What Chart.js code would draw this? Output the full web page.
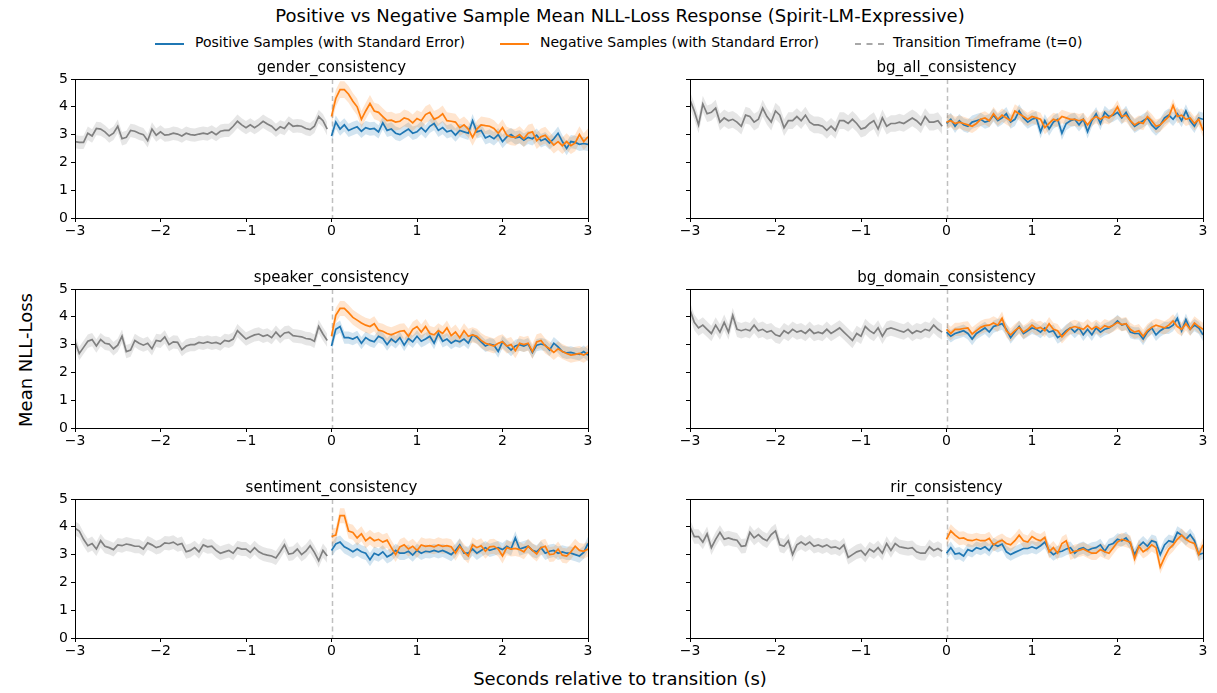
<!DOCTYPE html>
<html>
<head>
<meta charset="utf-8">
<script src="https://cdn.jsdelivr.net/npm/chart.js@4.4.1/dist/chart.umd.min.js"></script>
<style>
  body { margin: 0; background: #fff; font-family: "DejaVu Sans", sans-serif; color: #000; }
  #page { position: relative; width: 1217px; height: 693px; overflow: hidden; }
  .panel { position: absolute; }
  #suptitle { position: absolute; top: 5px; left: 0; width: 1240px; text-align: center; font-size: 18px; }
  #legend { position: absolute; top: 34px; left: 155px; font-size: 14px; white-space: nowrap; }
  .item { position: absolute; top: 0; }
  .swatch { position: absolute; top: 9px; width: 29px; height: 0; }
  .item span.txt { position: absolute; left: 40px; top: 0; }
  #ylabel { position: absolute; left: 25px; top: 360px; font-size: 18px; transform: translate(-50%, -50%) rotate(-90deg); white-space: nowrap; }
  #xlabel { position: absolute; top: 668px; left: 0; width: 1240px; text-align: center; font-size: 18px; }
</style>
</head>
<body>
<div id="page">
  <div id="suptitle">Positive vs Negative Sample Mean NLL-Loss Response (Spirit-LM-Expressive)</div>
  <div id="legend">
    <div class="item" style="left:0"><div class="swatch" style="border-top:2px solid #1f77b4"></div><span class="txt">Positive Samples (with Standard Error)</span></div>
    <div class="item" style="left:345px"><div class="swatch" style="border-top:2px solid #ff7f0e"></div><span class="txt">Negative Samples (with Standard Error)</span></div>
    <div class="item" style="left:700px"><div class="swatch" style="border-top:2px dashed #a8a8a8"></div><span class="txt" style="left:38px">Transition Timeframe (t=0)</span></div>
  </div>
  <div id="ylabel">Mean NLL-Loss</div>
  <div id="xlabel">Seconds relative to transition (s)</div>
</div>
<script>
// sampling grid: 0.05 s, pre segment starts at -3 s, post at 0 s
const sampleStep = 0.05;
const preStart = -3;
const transitionTime = 0;
const xTicks = [-3, -2, -1, 0, 1, 2, 3];
const yTicks = [0, 1, 2, 3, 4, 5];

const panelTitles = ["gender_consistency", "bg_all_consistency", "speaker_consistency",
  "bg_domain_consistency", "sentiment_consistency", "rir_consistency"];

// standard error per panel (pre, positive, negative)
const preErr = [0.24, 0.3, 0.24, 0.28, 0.25, 0.26];
const posErr = [0.24, 0.24, 0.22, 0.22, 0.24, 0.22];
const negErr = [0.3, 0.24, 0.27, 0.24, 0.27, 0.24];

const genderPre = [2.75, 2.72, 2.72, 3.05, 2.95, 3.22, 3.20, 3.10, 2.95, 3.05,
  3.30, 2.85, 2.90, 3.15, 3.12, 3.05, 3.00, 2.78, 3.20, 2.98,
  3.10, 2.98, 3.00, 3.05, 3.02, 2.95, 3.05, 3.00, 2.98, 3.02,
  3.05, 3.02, 3.10, 3.00, 3.12, 3.15, 3.15, 3.30, 3.48, 3.35,
  3.25, 3.35, 3.25, 3.35, 3.48, 3.38, 3.30, 3.15, 3.28, 3.22,
  3.42, 3.30, 3.32, 3.30, 3.22, 3.18, 3.30, 3.65, 3.50, 3.20];
const genderPos = [2.95, 3.45, 3.20, 3.35, 3.15, 3.22, 3.28, 3.12, 3.25, 3.20,
  3.22, 3.10, 3.42, 3.15, 3.20, 3.05, 3.00, 3.10, 3.20, 3.05,
  3.10, 3.25, 3.10, 3.30, 3.40, 3.15, 3.25, 3.10, 3.15, 2.98,
  3.15, 3.10, 3.05, 3.50, 3.10, 3.15, 2.88, 2.95, 2.85, 3.00,
  2.75, 2.92, 3.00, 2.88, 2.92, 2.80, 2.90, 2.85, 2.98, 2.78,
  2.85, 2.70, 2.85, 3.05, 2.75, 2.50, 2.75, 2.72, 2.65, 2.68, 2.65];
const genderNeg = [3.65, 4.30, 4.62, 4.62, 4.45, 4.20, 4.00, 3.55, 3.85, 4.12,
  3.85, 3.80, 3.65, 3.50, 3.52, 3.45, 3.48, 3.60, 3.55, 3.42,
  3.58, 3.50, 3.72, 3.80, 3.55, 3.62, 3.75, 3.50, 3.48, 3.45,
  3.25, 3.35, 3.20, 2.90, 3.20, 3.35, 3.32, 3.30, 3.22, 3.05,
  3.25, 2.98, 2.92, 2.90, 3.00, 2.85, 3.05, 3.10, 2.78, 2.92,
  2.98, 2.80, 2.62, 2.75, 2.60, 2.75, 2.60, 2.70, 3.00, 2.75, 2.92];

const bgAllPre = [4.25, 3.85, 3.35, 4.10, 3.75, 3.80, 3.95, 3.45, 3.60, 3.50,
  3.55, 3.45, 3.30, 3.70, 3.65, 3.45, 3.55, 3.95, 3.65, 3.45,
  3.85, 3.70, 3.25, 3.50, 3.50, 3.65, 3.50, 3.70, 3.45, 3.35,
  3.35, 3.30, 3.15, 3.30, 3.15, 3.50, 3.50, 3.40, 3.55, 3.40,
  3.20, 3.25, 3.40, 3.50, 3.20, 3.60, 3.30, 3.40, 3.40, 3.45,
  3.40, 3.50, 3.60, 3.50, 3.35, 3.65, 3.45, 3.45, 3.50, 3.30];
const bgAllPos = [3.40, 3.55, 3.30, 3.50, 3.35, 3.30, 3.45, 3.50, 3.55, 3.45,
  3.50, 3.70, 3.50, 3.60, 3.75, 3.45, 3.55, 3.85, 3.60, 3.45,
  3.55, 3.60, 3.10, 3.50, 3.20, 3.45, 3.55, 3.05, 3.40, 3.50,
  3.55, 3.35, 3.55, 3.10, 3.50, 3.75, 3.40, 3.80, 3.65, 3.70,
  3.80, 3.60, 3.80, 3.50, 3.30, 3.40, 3.50, 3.60, 3.35, 3.20,
  3.35, 3.60, 3.70, 3.55, 3.75, 3.50, 3.85, 3.50, 3.30, 3.60, 3.55];
const bgAllNeg = [3.45, 3.50, 3.40, 3.45, 3.40, 3.35, 3.30, 3.40, 3.55, 3.60,
  3.50, 3.75, 3.55, 3.70, 3.60, 3.50, 3.85, 3.75, 3.65, 3.55,
  3.65, 3.60, 3.55, 3.25, 3.40, 3.55, 3.50, 3.65, 3.60, 3.55,
  3.55, 3.50, 3.55, 3.35, 3.55, 3.65, 3.55, 3.65, 3.60, 3.75,
  4.00, 3.65, 3.70, 3.50, 3.35, 3.45, 3.40, 3.65, 3.50, 3.30,
  3.35, 3.50, 3.65, 4.05, 3.65, 3.70, 3.55, 3.60, 3.40, 3.55, 3.15];

const speakerPre = [3.10, 2.68, 2.90, 3.12, 3.18, 2.95, 3.18, 3.05, 3.02, 2.85,
  2.98, 3.30, 2.75, 2.80, 3.15, 3.05, 2.98, 3.05, 2.85, 3.15,
  3.12, 3.28, 3.00, 3.10, 3.08, 2.82, 2.95, 3.00, 3.00, 3.08,
  3.05, 3.10, 3.05, 3.08, 3.02, 3.15, 3.12, 3.20, 3.50, 3.35,
  3.20, 3.28, 3.35, 3.38, 3.30, 3.35, 3.25, 3.45, 3.28, 3.42,
  3.45, 3.32, 3.30, 3.28, 3.22, 3.20, 3.12, 3.65, 3.38, 3.15];
const speakerPos = [2.95, 3.55, 3.65, 3.25, 3.25, 3.20, 3.28, 3.05, 3.25, 3.15,
  3.10, 3.30, 3.22, 3.00, 3.20, 3.08, 3.25, 2.98, 3.22, 3.10,
  3.30, 3.12, 3.20, 3.30, 3.05, 3.40, 3.12, 3.20, 3.05, 3.15,
  3.10, 3.20, 3.05, 3.35, 3.25, 3.10, 2.95, 3.02, 2.98, 2.75,
  3.10, 2.95, 2.80, 2.95, 3.00, 2.95, 3.02, 2.72, 2.98, 3.02,
  2.98, 2.80, 3.05, 2.92, 2.75, 2.70, 2.72, 2.68, 2.65, 2.75, 2.62];
const speakerNeg = [3.30, 4.05, 4.30, 4.30, 4.15, 3.98, 3.88, 3.78, 3.70, 3.65,
  3.75, 3.52, 3.48, 3.40, 3.35, 3.42, 3.48, 3.50, 3.30, 3.55,
  3.65, 3.45, 3.65, 3.40, 3.35, 3.50, 3.40, 3.60, 3.32, 3.45,
  3.25, 3.50, 3.30, 3.35, 3.30, 3.15, 3.05, 3.00, 2.95, 3.05,
  3.10, 2.95, 3.00, 2.78, 3.05, 3.00, 3.05, 2.75, 3.10, 3.15,
  2.95, 2.85, 2.72, 2.85, 2.75, 2.68, 2.62, 2.65, 2.68, 2.62, 2.72];

const bgDomainPre = [4.25, 3.80, 3.60, 3.70, 3.55, 3.40, 3.70, 3.45, 3.80, 3.45,
  4.05, 3.55, 3.50, 3.55, 3.50, 3.70, 3.50, 3.55, 3.45, 3.50,
  3.35, 3.30, 3.50, 3.40, 3.55, 3.45, 3.50, 3.40, 3.55, 3.40,
  3.45, 3.40, 3.55, 3.40, 3.50, 3.60, 3.45, 3.30, 3.15, 3.40,
  3.30, 3.65, 3.50, 3.40, 3.60, 3.30, 3.55, 3.60, 3.55, 3.50,
  3.45, 3.55, 3.40, 3.50, 3.45, 3.55, 3.50, 3.70, 3.55, 3.45];
const bgDomainPos = [3.45, 3.30, 3.40, 3.45, 3.50, 3.40, 3.20, 3.40, 3.50, 3.60,
  3.45, 3.65, 3.70, 3.75, 3.55, 3.25, 3.45, 3.65, 3.40, 3.50,
  3.60, 3.55, 3.45, 3.60, 3.45, 3.50, 3.25, 3.35, 3.50, 3.60,
  3.45, 3.60, 3.35, 3.55, 3.35, 3.60, 3.45, 3.55, 3.60, 3.70,
  3.85, 3.70, 3.75, 3.45, 3.40, 3.40, 3.20, 3.45, 3.60, 3.35,
  3.50, 3.60, 3.60, 3.70, 3.95, 3.50, 3.90, 3.55, 3.70, 3.60, 3.35];
const bgDomainNeg = [3.55, 3.40, 3.55, 3.55, 3.58, 3.60, 3.38, 3.50, 3.62, 3.68,
  3.70, 3.78, 3.70, 3.95, 3.50, 3.35, 3.50, 3.62, 3.45, 3.55,
  3.70, 3.58, 3.62, 3.50, 3.75, 3.55, 3.50, 3.28, 3.45, 3.60,
  3.65, 3.60, 3.55, 3.68, 3.55, 3.65, 3.55, 3.68, 3.62, 3.70,
  3.80, 3.72, 3.75, 3.55, 3.45, 3.50, 3.30, 3.50, 3.62, 3.70,
  3.65, 3.60, 3.70, 3.85, 3.65, 3.55, 3.75, 3.55, 3.78, 3.65, 3.55];

const sentimentPre = [3.95, 3.85, 3.55, 3.32, 3.40, 3.20, 3.50, 3.30, 3.25, 3.18,
  3.35, 3.32, 3.38, 3.35, 3.30, 3.30, 3.20, 3.42, 3.35, 3.25,
  3.30, 3.42, 3.40, 3.45, 3.35, 3.40, 3.10, 3.15, 3.25, 3.10,
  3.35, 3.28, 3.30, 3.15, 3.05, 3.10, 3.15, 3.05, 3.25, 3.20,
  3.20, 3.08, 3.25, 3.10, 3.02, 2.98, 2.95, 2.88, 3.10, 3.35,
  3.02, 3.05, 3.20, 3.00, 3.12, 3.32, 3.08, 2.78, 3.15, 2.95];
const sentimentPos = [3.15, 3.38, 3.45, 3.28, 3.20, 3.10, 3.20, 3.10, 3.05, 2.82,
  3.05, 2.98, 3.10, 2.92, 3.00, 3.15, 3.05, 3.05, 3.12, 2.98,
  3.15, 3.05, 3.12, 3.10, 3.15, 3.10, 3.15, 3.08, 3.00, 3.15,
  3.35, 3.05, 3.05, 3.20, 3.05, 3.15, 3.25, 3.15, 3.20, 3.25,
  3.18, 3.30, 3.20, 3.60, 3.20, 3.25, 3.30, 3.15, 3.10, 3.25,
  3.05, 3.12, 3.15, 3.05, 3.10, 3.05, 3.05, 3.00, 2.95, 3.08, 3.40];
const sentimentNeg = [3.65, 3.70, 4.40, 4.40, 3.85, 3.80, 3.60, 3.75, 3.50, 3.62,
  3.50, 3.55, 3.45, 3.52, 3.25, 3.00, 3.28, 3.35, 3.20, 3.30,
  3.15, 3.35, 3.30, 3.32, 3.28, 3.35, 3.30, 3.32, 3.28, 3.05,
  3.30, 3.10, 2.95, 3.35, 3.25, 3.32, 3.12, 3.28, 3.30, 3.20,
  2.95, 3.25, 3.20, 3.22, 3.18, 3.10, 3.30, 3.15, 3.02, 3.25,
  3.30, 3.00, 3.02, 3.20, 2.98, 2.95, 3.10, 3.30, 3.15, 3.12, 3.20];

const rirPre = [4.00, 3.65, 3.65, 3.45, 3.75, 3.25, 3.55, 3.80, 3.55, 3.60,
  3.55, 3.52, 3.30, 3.32, 3.80, 3.60, 3.72, 3.58, 3.50, 3.72,
  3.85, 3.35, 3.30, 3.50, 3.00, 3.35, 3.45, 3.35, 3.45, 3.30,
  3.35, 3.28, 3.35, 3.25, 3.28, 3.20, 3.35, 2.90, 3.00, 3.10,
  3.15, 2.98, 3.20, 3.10, 3.25, 3.05, 3.40, 3.15, 3.40, 3.28,
  3.25, 3.22, 3.25, 3.10, 3.05, 3.05, 3.28, 3.15, 3.22, 3.12];
const rirPos = [3.05, 3.25, 3.02, 3.05, 2.95, 3.18, 3.12, 3.25, 3.20, 3.28,
  3.15, 3.38, 3.30, 3.38, 3.10, 3.00, 3.08, 3.15, 3.22, 3.22,
  3.28, 3.22, 3.32, 3.45, 3.15, 3.00, 3.10, 3.12, 3.20, 3.25,
  3.05, 3.20, 3.25, 3.15, 3.22, 3.25, 3.35, 3.12, 3.35, 3.40,
  3.55, 3.50, 3.60, 3.40, 3.00, 3.30, 3.45, 3.30, 3.50, 3.45,
  3.00, 3.35, 3.50, 3.45, 3.80, 3.70, 3.55, 3.72, 3.50, 3.00, 3.05];
const rirNeg = [3.55, 3.85, 3.70, 3.58, 3.60, 3.52, 3.50, 3.55, 3.50, 3.50,
  3.58, 3.35, 3.45, 3.52, 3.40, 3.35, 3.50, 3.70, 3.50, 3.45,
  3.65, 3.55, 3.50, 3.62, 3.10, 3.25, 3.05, 3.40, 3.50, 3.05,
  3.12, 3.15, 3.20, 3.12, 3.05, 3.05, 3.18, 3.10, 3.05, 3.25,
  3.45, 3.55, 3.50, 3.45, 2.85, 3.30, 3.10, 3.20, 3.35, 3.25,
  2.55, 2.90, 3.20, 3.35, 3.55, 3.70, 3.55, 3.45, 3.40, 3.00, 3.35];

const preSeries = [genderPre, bgAllPre, speakerPre, bgDomainPre, sentimentPre, rirPre];
const posSeries = [genderPos, bgAllPos, speakerPos, bgDomainPos, sentimentPos, rirPos];
const negSeries = [genderNeg, bgAllNeg, speakerNeg, bgDomainNeg, sentimentNeg, rirNeg];

// plot-area placement on the page
const colLeft = [75, 690];
const rowTop = [79, 289, 499];
const plotW = 513, plotH = 139;
const padL = 45, padT = 28, padR = 16, padB = 26;

Chart.defaults.font.family = "'DejaVu Sans', sans-serif";
Chart.defaults.font.size = 14;
Chart.defaults.color = "#000";

const frame = {
  id: "frame",
  beforeDatasetsDraw(chart) {
    // transition marker
    const {ctx, chartArea: a, scales} = chart;
    const x = Math.round(scales.x.getPixelForValue(transitionTime)) + 0.5;
    ctx.save();
    ctx.strokeStyle = "rgba(128,128,128,0.5)";
    ctx.lineWidth = 1.5;
    ctx.setLineDash([5, 3.5]);
    ctx.beginPath();
    ctx.moveTo(x, a.top);
    ctx.lineTo(x, a.bottom);
    ctx.stroke();
    ctx.restore();
  },
  afterDraw(chart, args, opts) {
    const {ctx, chartArea: a} = chart;
    ctx.save();
    ctx.strokeStyle = "#000";
    ctx.lineWidth = 1;
    ctx.strokeRect(Math.round(a.left) + 0.5, Math.round(a.top) + 0.5,
      Math.round(a.right - a.left), Math.round(a.bottom - a.top));
    ctx.font = "15px 'DejaVu Sans', sans-serif";
    ctx.fillStyle = "#000";
    ctx.textAlign = "center";
    ctx.textBaseline = "bottom";
    ctx.fillText(opts.title, (a.left + a.right) / 2, a.top - 3);
    ctx.restore();
  }
};

function toPoints(values, start) {
  return values.map((v, i) => ({x: start + i * sampleStep, y: v}));
}
function band(values, start, err, color, order) {
  return [
    {data: values.map((v, i) => ({x: start + i * sampleStep, y: v + err})),
     borderWidth: 0, pointRadius: 0, fill: false, order: order},
    {data: values.map((v, i) => ({x: start + i * sampleStep, y: v - err})),
     borderWidth: 0, pointRadius: 0, fill: "-1", backgroundColor: color, order: order}
  ];
}
function line(values, start, color, order) {
  return {data: toPoints(values, start), borderColor: color, borderWidth: 1.7,
    pointRadius: 0, fill: false, order: order};
}

panelTitles.forEach((title, k) => {
  const col = k % 2, row = Math.floor(k / 2);
  const div = document.createElement("div");
  div.className = "panel";
  div.style.left = (colLeft[col] - padL) + "px";
  div.style.top = (rowTop[row] - padT) + "px";
  const canvas = document.createElement("canvas");
  canvas.width = plotW + padL + padR;
  canvas.height = plotH + padT + padB;
  div.appendChild(canvas);
  document.getElementById("page").appendChild(div);

  const datasets = [
    ...band(preSeries[k], preStart, preErr[k], "rgba(128,128,128,0.2)", 5),
    ...band(posSeries[k], transitionTime, posErr[k], "rgba(31,119,180,0.2)", 4),
    ...band(negSeries[k], transitionTime, negErr[k], "rgba(255,127,14,0.2)", 3),
    line(preSeries[k], preStart, "#808080", 2),
    line(posSeries[k], transitionTime, "#1f77b4", 1),
    line(negSeries[k], transitionTime, "#ff7f0e", 0)
  ];

  new Chart(canvas, {
    type: "line",
    data: {datasets},
    plugins: [frame],
    options: {
      responsive: false,
      animation: false,
      devicePixelRatio: 1,
      layout: {padding: {left: 0, top: padT, right: padR, bottom: 0}},
      plugins: {legend: {display: false}, tooltip: {enabled: false},
        filler: {drawTime: "beforeDatasetsDraw"}, frame: {title}},
      scales: {
        x: {
          type: "linear", min: xTicks[0], max: xTicks[xTicks.length - 1],
          afterBuildTicks: s => { s.ticks = xTicks.map(v => ({value: v})); },
          afterFit: s => { s.height = padB; },
          ticks: {padding: 1, maxRotation: 0, autoSkip: false,
            callback: v => String(v).replace("-", "\u2212")},
          grid: {drawOnChartArea: false, drawTicks: true, tickLength: 4, color: "#000"},
          border: {display: true, color: "#000"}
        },
        y: {
          min: yTicks[0], max: yTicks[yTicks.length - 1],
          afterBuildTicks: s => { s.ticks = yTicks.map(v => ({value: v})); },
          afterFit: s => { s.width = padL; },
          ticks: {padding: 3, callback: v => col === 0 ? String(v) : ""},
          grid: {drawOnChartArea: false, drawTicks: true, tickLength: 4, color: "#000"},
          border: {display: true, color: "#000"}
        }
      }
    }
  });
});
</script>
</body>
</html>
